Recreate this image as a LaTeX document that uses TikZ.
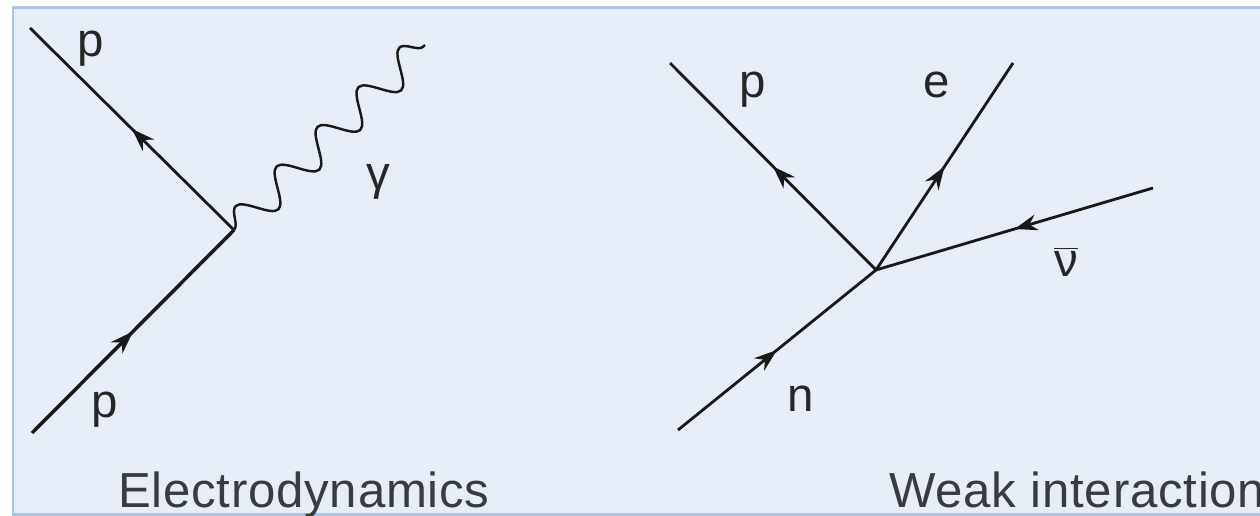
\documentclass[tikz,border=0pt]{standalone}
\usepackage{fontspec}
\setmainfont{Liberation Sans}
\usepackage{xcolor}
\usepackage{tikz}
\usetikzlibrary{calc, arrows.meta, decorations.pathmorphing, decorations.markings}

\definecolor{nenxanh}{HTML}{E6EDF7}
\definecolor{vienxanh}{HTML}{A9C4E6}
\definecolor{chuxam}{HTML}{383B40}

\begin{document}
\begin{tikzpicture}[x=0.02cm, y=-0.02cm,
    fermion/.style={line width=1.6pt, draw=black!90, postaction={decorate},
        decoration={markings, mark=at position 0.5 with {\arrow{Stealth[length=0.46cm, width=0.32cm]}}}},
    photon/.style={line width=1.4pt, draw=black!90, decorate,
        decoration={snake, segment length=1.14cm, amplitude=0.32cm}},
    nhan/.style={inner sep=0pt, font=\fontsize{27}{30}\selectfont, text=black!85},
    tieude/.style={inner sep=0pt, anchor=base west,
        font=\fontsize{28}{32}\selectfont\addfontfeatures{LetterSpace=1.5}, text=chuxam}]

    % =================================================================
    % 1. KHUNG NỀN
    % =================================================================
    \useasboundingbox (0,0) rectangle (1260,516);
    \clip (0,0) rectangle (1260,516);
    \fill[white] (0,0) rectangle (1260,516);
    \draw[line width=0.06cm, draw=vienxanh, fill=nenxanh] (13,8) rectangle (1300,514);

    % =================================================================
    % 2. GIẢN ĐỒ ĐIỆN ĐỘNG LỰC HỌC
    % =================================================================
    \coordinate (V1) at (234,230);
    \coordinate (p1vao) at (32,433);
    \coordinate (p1ra) at (30,28);
    \coordinate (gamma) at (425,45);

    \draw[fermion, line width=2pt] (p1vao) -- (V1);
    \draw[fermion] (V1) -- (p1ra);
    \draw[photon] (V1) -- (gamma);

    \node[nhan] (np1ra) at (91,49) {p};
    \node[nhan] (np1vao) at (105,410) {p};
    \node[nhan] (ngamma) at (378,182) {γ};
    \node[tieude] (ed) at (118,507) {Electrodynamics};

    % =================================================================
    % 3. GIẢN ĐỒ TƯƠNG TÁC YẾU
    % =================================================================
    \coordinate (V2) at (876,270);
    \coordinate (nvao) at (678,430);
    \coordinate (p2ra) at (670,63);
    \coordinate (era) at (1013,63);
    \coordinate (nuvao) at (1153,188);

    \draw[fermion] (nvao) -- (V2);
    \draw[fermion] (V2) -- (p2ra);
    \draw[fermion] (V2) -- (era);
    \draw[fermion] (nuvao) -- (V2);

    \node[nhan] (np2) at (753,90) {p};
    \node[nhan] (ne) at (937,85) {e};
    \node[nhan] (nnu) at (1066,262) {$\overline{\mbox{ν}}$};
    \node[nhan] (nn) at (801,399) {n};
    \node[tieude] (wi) at (889,507) {Weak interaction};

\end{tikzpicture}
\end{document}
